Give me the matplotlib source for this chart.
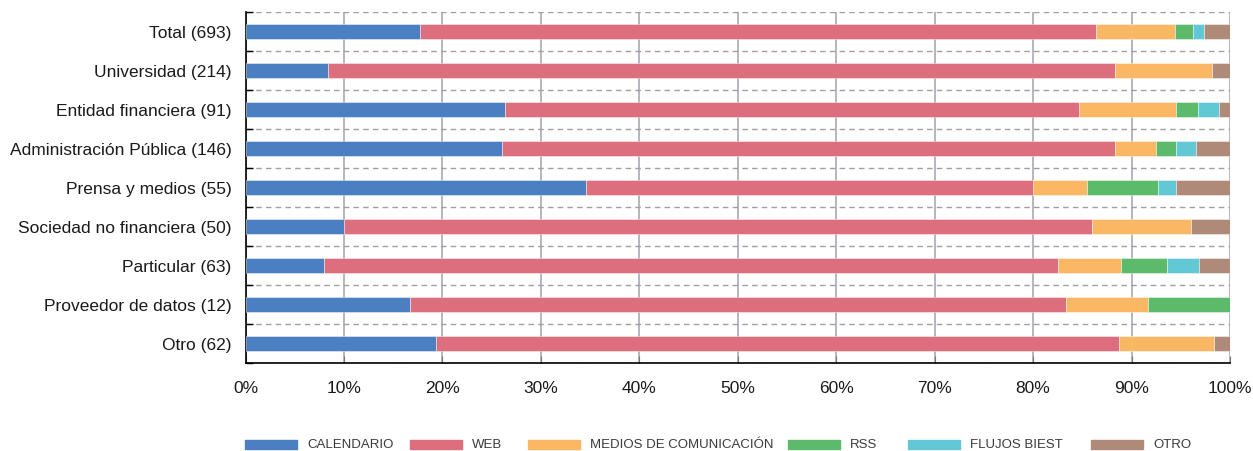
import matplotlib
matplotlib.use("Agg")
import matplotlib.pyplot as plt
from matplotlib.patches import Rectangle
from matplotlib.ticker import FixedLocator, PercentFormatter
import numpy as np

plt.rcParams['font.family'] = ['Liberation Sans', 'DejaVu Sans']

categories = ["Total (693)", "Universidad (214)", "Entidad financiera (91)",
              "Administración Pública (146)", "Prensa y medios (55)",
              "Sociedad no financiera (50)", "Particular (63)",
              "Proveedor de datos (12)", "Otro (62)"]
totals = [693, 214, 91, 146, 55, 50, 63, 12, 62]

# responses per channel (counts)
calendario = [123, 18, 24, 38, 19, 5, 5, 2, 12]
web = [476, 171, 53, 91, 25, 38, 47, 8, 43]
medios = [55, 21, 9, 6, 3, 5, 4, 1, 6]
rss = [13, 0, 2, 3, 4, 0, 3, 1, 0]
flujos = [8, 0, 2, 3, 1, 0, 2, 0, 0]
otro = [18, 4, 1, 5, 3, 2, 2, 0, 1]

series_names = ["CALENDARIO", "WEB", "MEDIOS DE COMUNICACIÓN", "RSS", "FLUJOS BIEST", "OTRO"]
series = [calendario, web, medios, rss, flujos, otro]
colors = ["#4a7fc1", "#dc6e7e", "#fbb864", "#5cbb6a", "#62c8d5", "#b08a78"]

W, H = 1253, 452
fig = plt.figure(figsize=(W / 100, H / 100), dpi=100)
ax = fig.add_axes([245.5 / W, 1 - 364 / H, (1230 - 245.5) / W, (364 - 13) / H])

y = np.arange(len(categories))
tot = np.array(totals, dtype=float)
left = np.zeros(len(categories))
for name, vals, col in zip(series_names, series, colors):
    pct = np.array(vals) / tot * 100
    ax.barh(y, pct, left=left, height=0.4, color=col, edgecolor=(1, 1, 1, 0.5),
            linewidth=0.6, label=name, zorder=3)
    left += pct

ax.set_xlim(0, 100)
ax.set_ylim(len(categories) - 0.5, -0.5)
ax.set_yticks(y)
ax.set_yticklabels(categories, fontsize=12.5, color='#1a1a1a')
ax.yaxis.set_minor_locator(FixedLocator(np.arange(-0.5, len(categories), 1)))
ax.tick_params(axis='y', which='major', length=0, pad=10)
ax.tick_params(axis='y', which='minor', direction='in', length=5, width=1, color='black')
ax.set_xticks(np.arange(0, 101, 10))
ax.xaxis.set_major_formatter(PercentFormatter(decimals=0))
ax.tick_params(axis='x', labelsize=12.5, labelcolor='#1a1a1a', direction='in', length=5,
               color='#777777', pad=12)

ax.grid(axis='x', which='major', color='#a9a9b1', linewidth=1.2, zorder=0)
ax.grid(axis='y', which='minor', color='#a0a0a0', linestyle=(0, (4, 3)), linewidth=1, zorder=0)
ax.set_axisbelow(True)

for s in ['top', 'right']:
    ax.spines[s].set_visible(False)
for s in ['left', 'bottom']:
    ax.spines[s].set_color('black')
    ax.spines[s].set_linewidth(1.2)

# legend laid out by hand to follow the original spacing
legend_x = [245, 410, 528, 788, 908, 1091]
for lx, name, col in zip(legend_x, series_names, colors):
    fig.add_artist(Rectangle((lx / W, 1 - 450 / H), 52 / W, 9 / H, color=col,
                             transform=fig.transFigure))
    fig.text((lx + 62) / W, 1 - 445.5 / H, name, fontsize=9.5, fontstretch='condensed',
             color='#3a3a3a', va='center', ha='left')

fig.savefig("out.png", dpi=100)
